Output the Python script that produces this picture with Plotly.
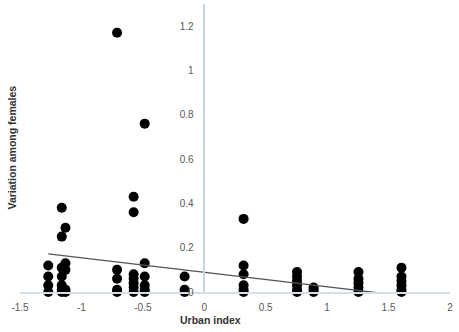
import plotly.graph_objects as go

# Data
urban_index = [
    -1.27, -1.27, -1.27, -1.27,
    -1.16, -1.16, -1.16, -1.16, -1.16, -1.16, -1.16,
    -1.13, -1.13, -1.13, -1.13, -1.13,
    -0.71, -0.71, -0.71, -0.71, -0.71,
    -0.575, -0.575, -0.575, -0.575, -0.575, -0.575, -0.575,
    -0.485, -0.485, -0.485, -0.485, -0.485, -0.485,
    -0.16, -0.16, -0.16,
    0.32, 0.32, 0.32, 0.32, 0.32, 0.32,
    0.755, 0.755, 0.755, 0.755, 0.755, 0.755,
    0.89, 0.89, 0.89,
    1.255, 1.255, 1.255, 1.255, 1.255,
    1.605, 1.605, 1.605, 1.605, 1.605, 1.605,
]
variation = [
    0.12, 0.07, 0.03, 0.0,
    0.38, 0.25, 0.11, 0.07, 0.03, 0.01, 0.0,
    0.29, 0.13, 0.10, 0.01, 0.0,
    1.17, 0.10, 0.06, 0.01, 0.0,
    0.43, 0.36, 0.08, 0.06, 0.04, 0.02, 0.0,
    0.76, 0.13, 0.07, 0.03, 0.01, 0.0,
    0.07, 0.01, 0.0,
    0.33, 0.12, 0.08, 0.03, 0.01, 0.0,
    0.09, 0.07, 0.05, 0.03, 0.01, 0.0,
    0.02, 0.01, 0.0,
    0.09, 0.06, 0.04, 0.02, 0.0,
    0.11, 0.07, 0.05, 0.03, 0.01, 0.0,
]
trend_x = [-1.27, 1.605]
trend_y = [0.172, -0.016]

x_ticks = [-1.5, -1, -0.5, 0, 0.5, 1, 1.5, 2]
x_tick_labels = ["-1.5", "-1", "-0.5", "0", "0.5", "1", "1.5", "2"]
y_ticks = [0, 0.2, 0.4, 0.6, 0.8, 1, 1.2]
y_tick_labels = ["0", "0.2", "0.4", "0.6", "0.8", "1", "1.2"]

FONT = "Liberation Sans"

fig = go.Figure()
fig.add_trace(go.Scatter(
    x=urban_index, y=variation, mode="markers",
    marker=dict(color="black", size=10, line=dict(width=0)),
    cliponaxis=False, showlegend=False, hoverinfo="skip",
))
fig.add_trace(go.Scatter(
    x=trend_x, y=trend_y, mode="lines",
    line=dict(color="#555555", width=1.3),
    showlegend=False, hoverinfo="skip",
))

fig.update_layout(
    width=459, height=332,
    margin=dict(l=19.5, r=9, t=4, b=40),
    plot_bgcolor="white", paper_bgcolor="white",
    font=dict(family=FONT, size=10, color="#595959"),
    xaxis=dict(
        range=[-1.5, 2], tickvals=x_ticks, ticktext=x_tick_labels,
        showgrid=False, zeroline=False, showline=True,
        linecolor="#d6dee8", linewidth=1.5, ticks="",
        ticklabelstandoff=5,
    ),
    yaxis=dict(
        range=[0, 1.3], tickvals=y_ticks, ticktext=y_tick_labels,
        showgrid=False, zeroline=False, showline=True,
        linecolor="#c6d6e6", linewidth=1.5, ticks="",
        anchor="free", position=1.5 / 3.5,
        ticklabelstandoff=8,
    ),
    annotations=[
        dict(text="<b>Urban index</b>", xref="paper", yref="paper",
             x=0.4425, y=-0.097, xanchor="center", yanchor="middle",
             showarrow=False, font=dict(family=FONT, size=10.5, color="#333333")),
        dict(text="<b>Variation among females</b>", xref="paper", yref="paper",
             x=-0.0197, y=0.5, xanchor="center", yanchor="middle", textangle=-90,
             showarrow=False, font=dict(family=FONT, size=10.5, color="#333333")),
    ],
)

fig.write_html("out.html", config={"displayModeBar": False},
               post_script="document.body.style.margin='0px';")
